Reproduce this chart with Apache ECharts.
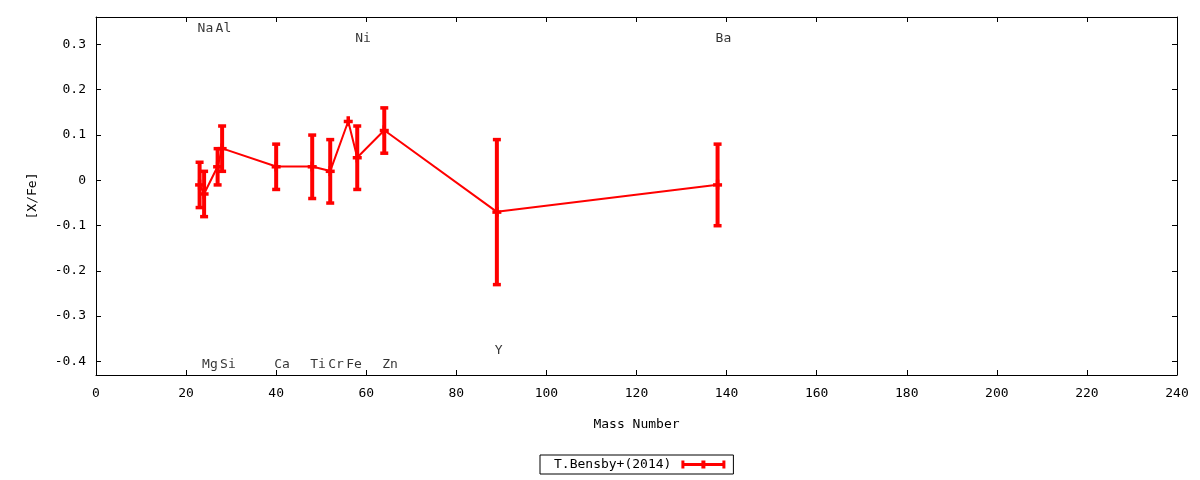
<!DOCTYPE html>
<html>
<head>
<meta charset="utf-8">
<script src="https://cdn.jsdelivr.net/npm/echarts@6/dist/echarts.min.js"></script>
<style>
html,body{margin:0;padding:0;background:#fff;}
#chart{width:1200px;height:480px;}
</style>
</head>
<body>
<div id="chart"></div>
<script>
const elements = ['Na','Mg','Al','Si','Ca','Ti','Cr','Fe','Ni','Zn','Y','Ba'];
const massNumbers = [23,24,27,28,40,48,52,56,58,64,89,138];
const xFe = [-0.01,-0.03,0.03,0.07,0.03,0.03,0.02,0.13,0.05,0.11,-0.07,-0.01];
const xFeErr = [0.05,0.05,0.04,0.05,0.05,0.07,0.07,0.0,0.07,0.05,0.16,0.09];
const labelY = [0.334,-0.407,0.334,-0.407,-0.407,-0.407,-0.407,-0.407,0.312,-0.407,-0.376,0.312];
const yTicks = [-0.4,-0.3,-0.2,-0.1,0,0.1,0.2,0.3];
const seriesName = 'T.Bensby+(2014)';

const RED = '#ff0000';
const FONT = 'DejaVu Sans Mono';

const errData = massNumbers.map((m,i)=>[m, xFe[i], xFe[i]-xFeErr[i], xFe[i]+xFeErr[i]]);
const lineData = massNumbers.map((m,i)=>[m, xFe[i]]);
const labelData = elements.map((e,i)=>({name:e, value:[massNumbers[i], labelY[i]]}));

const chart = echarts.init(document.getElementById('chart'), null, {renderer:'canvas'});
const axisText = {color:'#000', fontFamily:FONT, fontSize:13};
chart.setOption({
  animation:false,
  backgroundColor:'#fff',
  grid:{left:96, right:23, top:17, bottom:105, containLabel:false},
  xAxis:[{
    type:'value', min:0, max:240, interval:20, position:'bottom',
    name:'Mass Number', nameLocation:'middle', nameGap:43,
    nameTextStyle:axisText,
    axisLine:{show:true, onZero:false, lineStyle:{color:'#000', width:1}},
    axisTick:{show:true, inside:true, length:5, lineStyle:{color:'#000'}},
    axisLabel:Object.assign({margin:12}, axisText),
    splitLine:{show:false}
  },{
    type:'value', min:0, max:240, interval:20, position:'top',
    axisLine:{show:true, onZero:false, lineStyle:{color:'#000', width:1}},
    axisTick:{show:true, inside:true, length:5, lineStyle:{color:'#000'}},
    axisLabel:{show:false},
    splitLine:{show:false}
  }],
  yAxis:[{
    type:'value', min:-0.43, max:0.36, position:'left',
    name:'[X/Fe]', nameLocation:'middle', nameRotate:90, nameGap:57,
    nameTextStyle:axisText,
    axisLine:{show:true, onZero:false, lineStyle:{color:'#000', width:1}},
    axisTick:{show:true, inside:true, length:5, customValues:yTicks, lineStyle:{color:'#000'}},
    axisLabel:Object.assign({margin:10, customValues:yTicks, formatter:v=>String(Math.round(v*10)/10)}, axisText),
    splitLine:{show:false}
  },{
    type:'value', min:-0.43, max:0.36, position:'right',
    axisLine:{show:true, onZero:false, lineStyle:{color:'#000', width:1}},
    axisTick:{show:true, inside:true, length:5, customValues:yTicks, lineStyle:{color:'#000'}},
    axisLabel:{show:false},
    splitLine:{show:false}
  }],
  legend:{
    show:true,
    left:540, top:455,
    align:'right',
    orient:'horizontal',
    padding:[3,8,3,14],
    borderColor:'#000', borderWidth:1, borderRadius:0,
    itemWidth:44, itemHeight:8,
    textStyle:{color:'#000', fontFamily:FONT, fontSize:13, padding:[0,5,0,0]},
    selectedMode:false,
    data:[{
      name:seriesName,
      icon:'path://M0,0H3V8H0Z M0,2.5H44V5.5H0Z M41,0H44V8H41Z M20,0H24V8H20Z',
      itemStyle:{color:RED}
    }]
  },
  series:[
    {
      name:seriesName,
      type:'custom',
      xAxisIndex:0, yAxisIndex:0,
      itemStyle:{color:RED},
      data:errData,
      renderItem:function(params, api){
        const x = api.value(0), y = api.value(1), lo = api.value(2), hi = api.value(3);
        const pc = api.coord([x,y]);
        const plo = api.coord([x,lo]);
        const phi = api.coord([x,hi]);
        const st = {fill:RED};
        const children = [
          {type:'rect', shape:{x:pc[0]-4.5, y:pc[1]-1.5, width:9, height:3.5}, style:st},
          {type:'rect', shape:{x:pc[0]-1.75, y:pc[1]-5, width:3.5, height:10}, style:st}
        ];
        if (hi - lo > 0) {
          children.push(
            {type:'rect', shape:{x:pc[0]-2, y:phi[1], width:4, height:plo[1]-phi[1]}, style:st},
            {type:'rect', shape:{x:pc[0]-4, y:phi[1]-1.5, width:8, height:3.5}, style:st},
            {type:'rect', shape:{x:pc[0]-4, y:plo[1]-1.5, width:8, height:3.5}, style:st}
          );
        }
        return {type:'group', children:children};
      },
      z:3
    },
    {
      name:seriesName,
      type:'line',
      xAxisIndex:0, yAxisIndex:0,
      data:lineData,
      symbol:'none',
      lineStyle:{color:RED, width:2},
      itemStyle:{color:RED},
      z:2
    },
    {
      name:'labels',
      type:'scatter',
      xAxisIndex:0, yAxisIndex:0,
      data:labelData,
      symbolSize:0,
      silent:true,
      label:{
        show:true, position:'right', distance:-2,
        formatter:p=>p.name,
        color:'#000', fontFamily:FONT, fontSize:13
      },
      z:4
    }
  ]
});
</script>
</body>
</html>
